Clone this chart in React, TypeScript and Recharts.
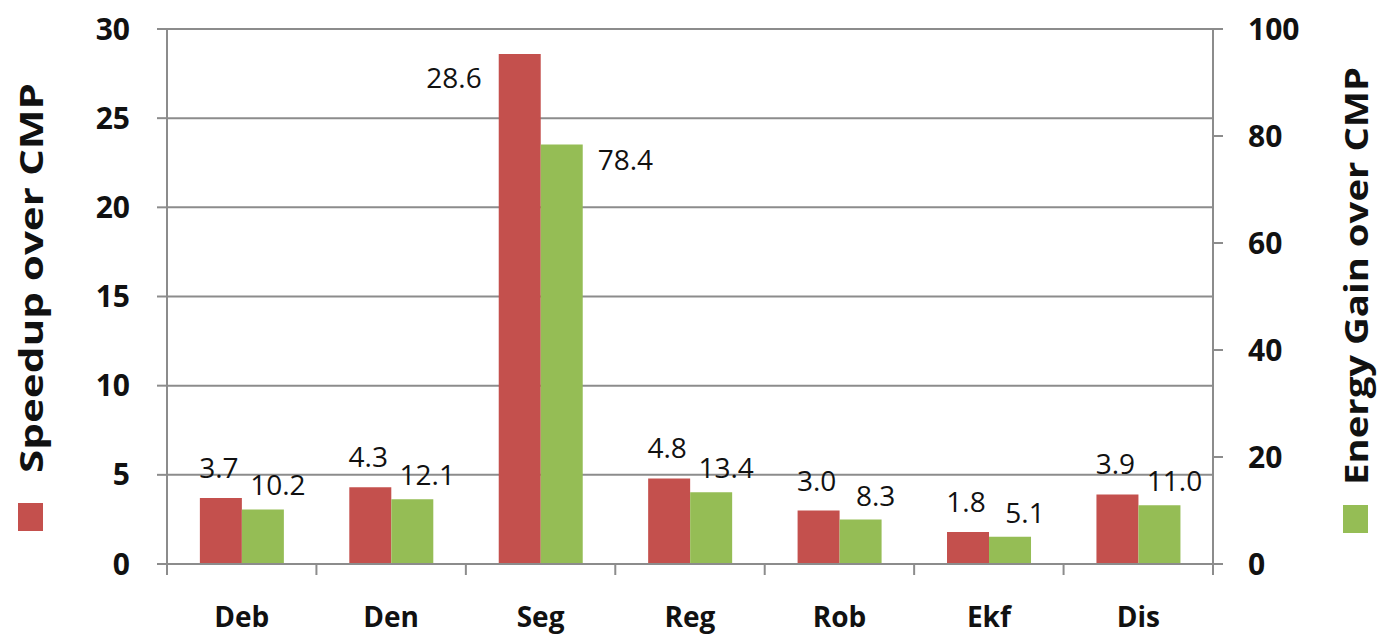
import React from 'react';
import { BarChart, Bar, XAxis, YAxis, CartesianGrid, LabelList, Label } from 'recharts';

const benchmarks = ['Deb', 'Den', 'Seg', 'Reg', 'Rob', 'Ekf', 'Dis'];
const speedup = [3.7, 4.3, 28.6, 4.8, 3.0, 1.8, 3.9];
const energyGain = [10.2, 12.1, 78.4, 13.4, 8.3, 5.1, 11.0];
const speedupTicks = [0, 5, 10, 15, 20, 25, 30];
const energyTicks = [0, 20, 40, 60, 80, 100];

const RED = '#c4504d';
const GREEN = '#95bd55';
const GRAY = '#8c8c8c';
const INK = '#111111';
const FONT = '"Open Sans", Calibri, sans-serif';

const data = benchmarks.map((name, i) => ({
  name,
  speedup: speedup[i],
  energy: energyGain[i],
}));

const peakSpeedup = Math.max(...speedup);
const peakEnergy = Math.max(...energyGain);

// category labels + tick marks on the category boundaries (Excel style)
const CategoryTick = (props: any) => {
  const { x, y, payload, index } = props;
  const half = payload?.offset ?? 0;
  return (
    <g>
      <line x1={x - half} x2={x - half} y1={y} y2={y + 11} stroke={GRAY} strokeWidth={2} />
      {index === benchmarks.length - 1 && (
        <line x1={x + half} x2={x + half} y1={y} y2={y + 11} stroke={GRAY} strokeWidth={2} />
      )}
      <text x={x} y={y + 63} textAnchor="middle" fontFamily={FONT} fontWeight={700} fontSize={28} fill={INK}>
        {payload.value}
      </text>
    </g>
  );
};

const SpeedupLabel = (props: any) => {
  const { x, y, width, value } = props;
  const common = { fontFamily: FONT, fontSize: 28, fill: INK };
  if (value === peakSpeedup) {
    return <text x={x - 17} y={y + 34} textAnchor="end" {...common}>{Number(value).toFixed(1)}</text>;
  }
  return <text x={x + width / 2 - 2} y={y - 20} textAnchor="middle" {...common}>{Number(value).toFixed(1)}</text>;
};

const EnergyLabel = (props: any) => {
  const { x, y, width, value } = props;
  const common = { fontFamily: FONT, fontSize: 28, fill: INK };
  if (value === peakEnergy) {
    return <text x={x + width + 15} y={y + 25} textAnchor="start" {...common}>{Number(value).toFixed(1)}</text>;
  }
  return <text x={x + width / 2 + 15} y={y - 14} textAnchor="middle" {...common}>{Number(value).toFixed(1)}</text>;
};

const axisTitle = (text: string, cx: number, cy: number, len: number, color: string, squareX: number, squareY: number) => () => (
  <g>
    <text
      x={cx}
      y={cy}
      transform={`rotate(-90, ${cx}, ${cy})`}
      textAnchor="middle"
      dominantBaseline="central"
      fontFamily={FONT}
      fontWeight={700}
      fontSize={32}
      fill={INK}
      textLength={len}
      lengthAdjust="spacingAndGlyphs"
    >
      {text}
    </text>
    <rect x={squareX} y={squareY} width={25} height={28} fill={color} />
  </g>
);

export default function App() {
  return (
    <div style={{ position: 'absolute', left: 0, top: 0, background: '#fff' }}>
      <BarChart
        width={1377}
        height={635}
        data={data}
        margin={{ top: 29, right: 0, bottom: 0, left: 0 }}
        barCategoryGap="22%"
        barGap={0}
      >
        <CartesianGrid yAxisId="left" horizontal vertical={false} stroke={GRAY} strokeWidth={2} />
        <XAxis
          dataKey="name"
          height={71}
          axisLine={{ stroke: GRAY, strokeWidth: 2 }}
          tickLine={false}
          tickSize={0}
          tickMargin={0}
          tick={<CategoryTick />}
          interval={0}
        />
        <YAxis
          yAxisId="left"
          width={167}
          domain={[0, 30]}
          ticks={speedupTicks}
          axisLine={{ stroke: GRAY, strokeWidth: 2 }}
          tickLine={{ stroke: GRAY, strokeWidth: 2 }}
          tickSize={10}
          tickMargin={27}
          tick={{ fontFamily: FONT, fontWeight: 700, fontSize: 30, fill: INK }}
        >
          <Label content={axisTitle('Speedup over CMP', 30, 278, 390, RED, 18, 503)} />
        </YAxis>
        <YAxis
          yAxisId="right"
          orientation="right"
          width={164}
          domain={[0, 100]}
          ticks={energyTicks}
          axisLine={{ stroke: GRAY, strokeWidth: 2 }}
          tickLine={{ stroke: GRAY, strokeWidth: 2 }}
          tickSize={10}
          tickMargin={25}
          tick={{ fontFamily: FONT, fontWeight: 700, fontSize: 30, fill: INK, textAnchor: 'start' }}
        >
          <Label content={axisTitle('Energy Gain over CMP', 1355, 276, 418, GREEN, 1343, 505)} />
        </YAxis>
        <Bar yAxisId="left" dataKey="speedup" fill={RED} isAnimationActive={false}>
          <LabelList dataKey="speedup" content={<SpeedupLabel />} />
        </Bar>
        <Bar yAxisId="right" dataKey="energy" fill={GREEN} isAnimationActive={false}>
          <LabelList dataKey="energy" content={<EnergyLabel />} />
        </Bar>
      </BarChart>
    </div>
  );
}
